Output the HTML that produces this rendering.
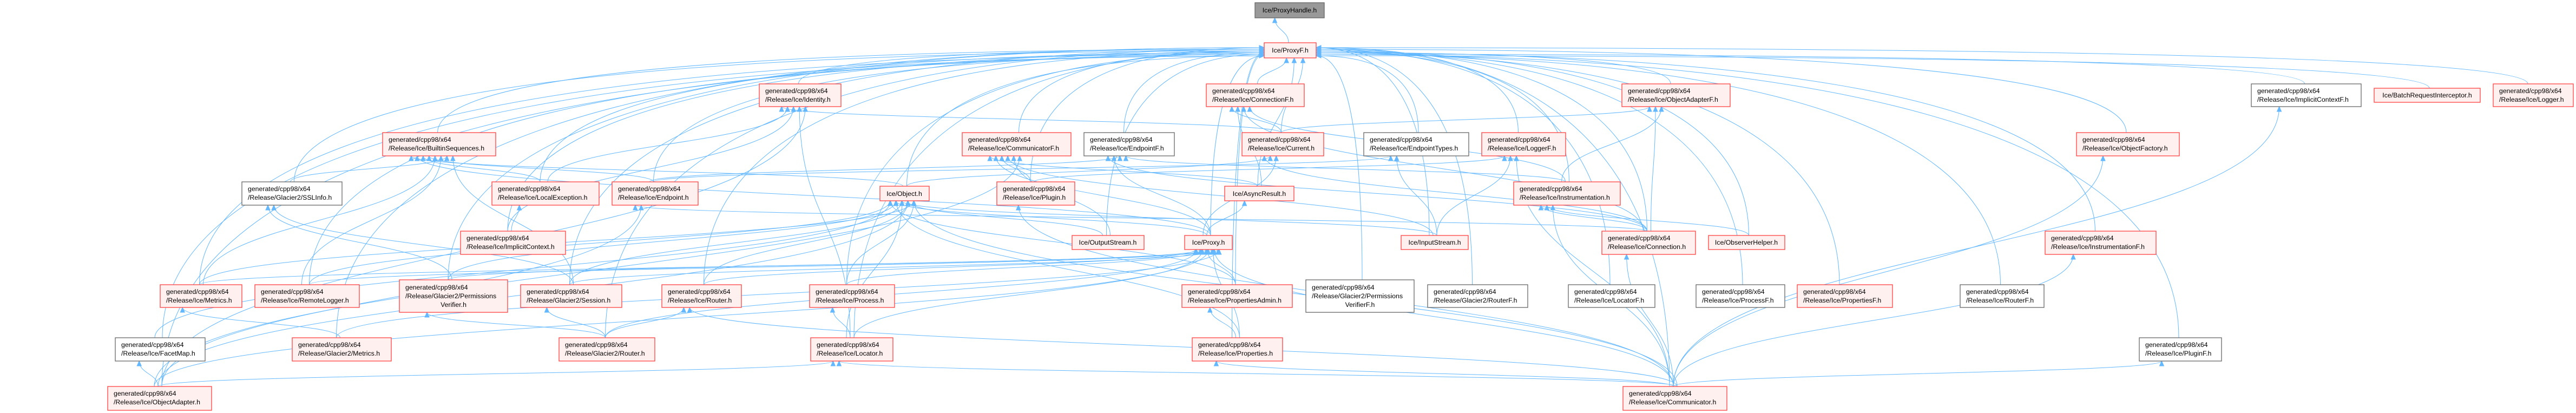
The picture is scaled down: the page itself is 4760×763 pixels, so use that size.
<!DOCTYPE html>
<html><head><meta charset="utf-8">
<style>
html,body{margin:0;padding:0;background:#fff;}
svg{display:block;}
text{font-family:"Liberation Sans",Arial,sans-serif;font-size:12.3px;fill:#000;}
.r{fill:#fff0f0;stroke:#ff4040;stroke-width:1.3;}
.g{fill:#fff;stroke:#666;stroke-width:1.3;}
.h{fill:#999;stroke:#666;stroke-width:1.3;}
</style></head><body>
<svg id="s" width="4760" height="763" viewBox="0 0 4760 763" xmlns="http://www.w3.org/2000/svg">
<g id="edges" fill="none" stroke="#63b8ff" stroke-width="1"></g>
<g id="heads" fill="#63b8ff" stroke="#63b8ff"></g>
<g id="nodes">
<rect class="h" x="2319" y="5" width="128" height="28"/><text x="2383" y="23" text-anchor="middle">Ice/ProxyHandle.h</text>
<rect class="r" x="2336" y="79" width="96" height="28"/><text x="2384" y="97" text-anchor="middle">Ice/ProxyF.h</text>

<rect class="r" x="1403" y="155" width="151" height="42"/><text x="1414" y="172">generated/cpp98/x64</text><text x="1414" y="188">/Release/Ice/Identity.h</text>
<rect class="r" x="2229" y="155" width="181" height="42"/><text x="2240" y="172">generated/cpp98/x64</text><text x="2240" y="188">/Release/Ice/ConnectionF.h</text>
<rect class="r" x="2997" y="155" width="200" height="42"/><text x="3008" y="172">generated/cpp98/x64</text><text x="3008" y="188">/Release/Ice/ObjectAdapterF.h</text>
<rect class="g" x="4160" y="155" width="203" height="42"/><text x="4171" y="172">generated/cpp98/x64</text><text x="4171" y="188">/Release/Ice/ImplicitContextF.h</text>
<rect class="r" x="4387" y="163" width="196" height="26"/><text x="4485" y="180" text-anchor="middle">Ice/BatchRequestInterceptor.h</text>
<rect class="r" x="4607" y="155" width="148" height="42"/><text x="4618" y="172">generated/cpp98/x64</text><text x="4618" y="188">/Release/Ice/Logger.h</text>

<rect class="r" x="707" y="245" width="209" height="43"/><text x="718" y="262">generated/cpp98/x64</text><text x="718" y="278">/Release/Ice/BuiltinSequences.h</text>
<rect class="r" x="1778" y="245" width="201" height="43"/><text x="1789" y="262">generated/cpp98/x64</text><text x="1789" y="278">/Release/Ice/CommunicatorF.h</text>
<rect class="g" x="2003" y="245" width="167" height="43"/><text x="2014" y="262">generated/cpp98/x64</text><text x="2014" y="278">/Release/Ice/EndpointF.h</text>
<rect class="r" x="2295" y="245" width="151" height="43"/><text x="2306" y="262">generated/cpp98/x64</text><text x="2306" y="278">/Release/Ice/Current.h</text>
<rect class="g" x="2520" y="245" width="194" height="43"/><text x="2531" y="262">generated/cpp98/x64</text><text x="2531" y="278">/Release/Ice/EndpointTypes.h</text>
<rect class="r" x="2738" y="245" width="155" height="43"/><text x="2749" y="262">generated/cpp98/x64</text><text x="2749" y="278">/Release/Ice/LoggerF.h</text>
<rect class="r" x="3837" y="245" width="190" height="43"/><text x="3848" y="262">generated/cpp98/x64</text><text x="3848" y="278">/Release/Ice/ObjectFactory.h</text>

<rect class="g" x="447" y="336" width="185" height="43"/><text x="458" y="353">generated/cpp98/x64</text><text x="458" y="369">/Release/Glacier2/SSLInfo.h</text>
<rect class="r" x="909" y="336" width="198" height="43"/><text x="920" y="353">generated/cpp98/x64</text><text x="920" y="369">/Release/Ice/LocalException.h</text>
<rect class="r" x="1131" y="336" width="159" height="43"/><text x="1142" y="353">generated/cpp98/x64</text><text x="1142" y="369">/Release/Ice/Endpoint.h</text>
<rect class="r" x="1626" y="344" width="91" height="27"/><text x="1671" y="362" text-anchor="middle">Ice/Object.h</text>
<rect class="r" x="1842" y="336" width="144" height="43"/><text x="1853" y="353">generated/cpp98/x64</text><text x="1853" y="369">/Release/Ice/Plugin.h</text>
<rect class="r" x="2263" y="344" width="128" height="27"/><text x="2327" y="362" text-anchor="middle">Ice/AsyncResult.h</text>
<rect class="r" x="2797" y="336" width="197" height="43"/><text x="2808" y="353">generated/cpp98/x64</text><text x="2808" y="369">/Release/Ice/Instrumentation.h</text>

<rect class="r" x="851" y="427" width="194" height="43"/><text x="862" y="444">generated/cpp98/x64</text><text x="862" y="460">/Release/Ice/ImplicitContext.h</text>
<rect class="r" x="1981" y="435" width="133" height="26"/><text x="2047" y="452" text-anchor="middle">Ice/OutputStream.h</text>
<rect class="r" x="2189" y="435" width="88" height="26"/><text x="2233" y="452" text-anchor="middle">Ice/Proxy.h</text>
<rect class="r" x="2589" y="435" width="124" height="26"/><text x="2651" y="452" text-anchor="middle">Ice/InputStream.h</text>
<rect class="r" x="2960" y="427" width="173" height="43"/><text x="2971" y="444">generated/cpp98/x64</text><text x="2971" y="460">/Release/Ice/Connection.h</text>
<rect class="r" x="3157" y="435" width="141" height="26"/><text x="3227" y="452" text-anchor="middle">Ice/ObserverHelper.h</text>
<rect class="r" x="3779" y="427" width="205" height="43"/><text x="3790" y="444">generated/cpp98/x64</text><text x="3790" y="460">/Release/Ice/InstrumentationF.h</text>

<rect class="r" x="296" y="526" width="151" height="42"/><text x="307" y="543">generated/cpp98/x64</text><text x="307" y="559">/Release/Ice/Metrics.h</text>
<rect class="r" x="471" y="526" width="193" height="42"/><text x="482" y="543">generated/cpp98/x64</text><text x="482" y="559">/Release/Ice/RemoteLogger.h</text>
<rect class="r" x="738" y="517" width="200" height="60"/><text x="749" y="535">generated/cpp98/x64</text><text x="749" y="551">/Release/Glacier2/Permissions</text><text x="838" y="567" text-anchor="middle">Verifier.h</text>
<rect class="r" x="962" y="526" width="187" height="42"/><text x="973" y="543">generated/cpp98/x64</text><text x="973" y="559">/Release/Glacier2/Session.h</text>
<rect class="r" x="1223" y="526" width="147" height="42"/><text x="1234" y="543">generated/cpp98/x64</text><text x="1234" y="559">/Release/Ice/Router.h</text>
<rect class="r" x="1496" y="526" width="157" height="42"/><text x="1507" y="543">generated/cpp98/x64</text><text x="1507" y="559">/Release/Ice/Process.h</text>
<rect class="r" x="2184" y="526" width="204" height="42"/><text x="2195" y="543">generated/cpp98/x64</text><text x="2195" y="559">/Release/Ice/PropertiesAdmin.h</text>
<rect class="g" x="2413" y="517" width="200" height="60"/><text x="2424" y="535">generated/cpp98/x64</text><text x="2424" y="551">/Release/Glacier2/Permissions</text><text x="2513" y="567" text-anchor="middle">VerifierF.h</text>
<rect class="g" x="2638" y="526" width="185" height="42"/><text x="2649" y="543">generated/cpp98/x64</text><text x="2649" y="559">/Release/Glacier2/RouterF.h</text>
<rect class="g" x="2898" y="526" width="160" height="42"/><text x="2909" y="543">generated/cpp98/x64</text><text x="2909" y="559">/Release/Ice/LocatorF.h</text>
<rect class="g" x="3134" y="526" width="164" height="42"/><text x="3145" y="543">generated/cpp98/x64</text><text x="3145" y="559">/Release/Ice/ProcessF.h</text>
<rect class="r" x="3321" y="526" width="176" height="42"/><text x="3332" y="543">generated/cpp98/x64</text><text x="3332" y="559">/Release/Ice/PropertiesF.h</text>
<rect class="g" x="3622" y="526" width="155" height="42"/><text x="3633" y="543">generated/cpp98/x64</text><text x="3633" y="559">/Release/Ice/RouterF.h</text>

<rect class="g" x="213" y="624" width="166" height="43"/><text x="224" y="641">generated/cpp98/x64</text><text x="224" y="657">/Release/Ice/FacetMap.h</text>
<rect class="r" x="540" y="624" width="183" height="43"/><text x="551" y="641">generated/cpp98/x64</text><text x="551" y="657">/Release/Glacier2/Metrics.h</text>
<rect class="r" x="1033" y="624" width="177" height="43"/><text x="1044" y="641">generated/cpp98/x64</text><text x="1044" y="657">/Release/Glacier2/Router.h</text>
<rect class="r" x="1498" y="624" width="152" height="43"/><text x="1509" y="641">generated/cpp98/x64</text><text x="1509" y="657">/Release/Ice/Locator.h</text>
<rect class="r" x="2203" y="624" width="167" height="43"/><text x="2214" y="641">generated/cpp98/x64</text><text x="2214" y="657">/Release/Ice/Properties.h</text>
<rect class="g" x="3953" y="624" width="152" height="43"/><text x="3964" y="641">generated/cpp98/x64</text><text x="3964" y="657">/Release/Ice/PluginF.h</text>

<rect class="r" x="199" y="714" width="192" height="44"/><text x="210" y="731">generated/cpp98/x64</text><text x="210" y="747">/Release/Ice/ObjectAdapter.h</text>
<rect class="r" x="2999" y="714" width="192" height="44"/><text x="3010" y="731">generated/cpp98/x64</text><text x="3010" y="747">/Release/Ice/Communicator.h</text>
</g>
</svg>
<script>
var N={PH:[2319,5,2447,33],PF:[2336,79,2432,107],ID:[1403,155,1554,197],CF:[2229,155,2410,197],OAF:[2997,155,3197,197],ICF:[4160,155,4363,197],BRI:[4387,163,4583,189],LG:[4607,155,4755,197],
BS:[707,245,916,288],CMF:[1778,245,1979,288],EF:[2003,245,2170,288],CU:[2295,245,2446,288],ET:[2520,245,2714,288],LF:[2738,245,2893,288],OF:[3837,245,4027,288],
SSL:[447,336,632,379],LE:[909,336,1107,379],EP:[1131,336,1290,379],OB:[1626,344,1717,371],PL:[1842,336,1986,379],AR:[2263,344,2391,371],IN:[2797,336,2994,379],
IC:[851,427,1045,470],OS:[1981,435,2114,461],PX:[2189,435,2277,461],IS:[2589,435,2713,461],CN:[2960,427,3133,470],OH:[3157,435,3298,461],IF:[3779,427,3984,470],
MT:[296,526,447,568],RL:[471,526,664,568],PV:[738,517,938,577],SE:[962,526,1149,568],RT:[1223,526,1370,568],PR:[1496,526,1653,568],PA:[2184,526,2388,568],PVF:[2413,517,2613,577],GRF:[2638,526,2823,568],LCF:[2898,526,3058,568],PCF:[3134,526,3298,568],PPF:[3321,526,3497,568],RF:[3622,526,3777,568],
FM:[213,624,379,667],GM:[540,624,723,667],GR:[1033,624,1210,667],LC:[1498,624,1650,667],PP:[2203,624,2370,667],PGF:[3953,624,4105,667],OA:[199,714,391,758],CM:[2999,714,3191,758]};
var E=[["PF","PH"]];
for(var k in N){if(k!="PH"&&k!="PF")E.push([k,"PF"]);}
var extra="CU CF,CU OAF,CU ID,AR CF,AR CMF,CN CF,CN OAF,CN EP,CN EF,CN CU,CN IN,OB CU,OB BS,PX AR,PX EF,PX OB,PX CU,PX CMF,PX BS,LE ID,LE BS,IC LE,IC ID,EP BS,EP EF,EP ET,PL LF,PL CMF,IN CF,IN EF,IN OAF,OH IN,IS LF,IS CMF,IS OB,IS ET,OS CMF,OS OB,MT BS,MT PX,MT OB,RL BS,RL PX,RL OB,SSL BS,PV SSL,PV PX,PV OB,SE SSL,SE PX,SE OB,SE BS,RT PX,RT OB,PR PX,PR OB,PA PX,PA OB,PP PA,PP PX,PP OB,GM MT,GM PX,GR PV,GR SE,GR RT,GR PX,LC PR,LC PX,LC ID,LC OB,OA FM,OA LC,OA EP,OA ID,OA OB,OA PX,OA CMF,CM PP,CM RT,CM LC,CM PGF,CM IF,CM OF,CM ICF,CM LF,CM CN,CM PX,CM OB,CM PL,CM IN,FM OB".split(",");
extra.forEach(function(s){E.push(s.split(" "));});
var ge=document.getElementById("edges"),gh=document.getElementById("heads"),NS="http://www.w3.org/2000/svg";
var cnt={};
E.forEach(function(e){
 var c=N[e[0]],p=N[e[1]];if(!c||!p)return;
 cnt[e[1]]=(cnt[e[1]]||0)+1;var j=cnt[e[1]];
 var cx=(c[0]+c[2])/2+((j*7)%21-10),cy=c[1];
 var px,py,c1x,c1y,c2x,c2y;
 if(e[1]=="PF"&&(cx<2300||cx>2470)){
   var left=cx<2336;px=left?2336:2432;py=88+(j%6)*3;
   var dy=cy-py;
   c1x=cx;c1y=py+dy*0.15;c2x=cx+(px-cx)*0.55;c2y=py;
 }else{
   px=(p[0]+p[2])/2+((j*11)%(Math.max(8,(p[2]-p[0])*0.6)))-(p[2]-p[0])*0.3;py=p[3];
   var m=(cy+py)/2;c1x=cx;c1y=m;c2x=px;c2y=m;
   if(cy<=py){cy=c[1];}
 }
 var path=document.createElementNS(NS,"path");
 path.setAttribute("d","M"+cx+","+cy+" C"+c1x+","+c1y+" "+c2x+","+c2y+" "+px+","+py);
 ge.appendChild(path);
 var dx=px-c2x,dyy=py-c2y,L=Math.sqrt(dx*dx+dyy*dyy)||1;dx/=L;dyy/=L;
 var bx=px-dx*9,by=py-dyy*9,nx=-dyy*4,ny=dx*4;
 var t=document.createElementNS(NS,"polygon");
 t.setAttribute("points",px+","+py+" "+(bx+nx)+","+(by+ny)+" "+(bx-nx)+","+(by-ny));
 gh.appendChild(t);
});
</script>
</body></html>
